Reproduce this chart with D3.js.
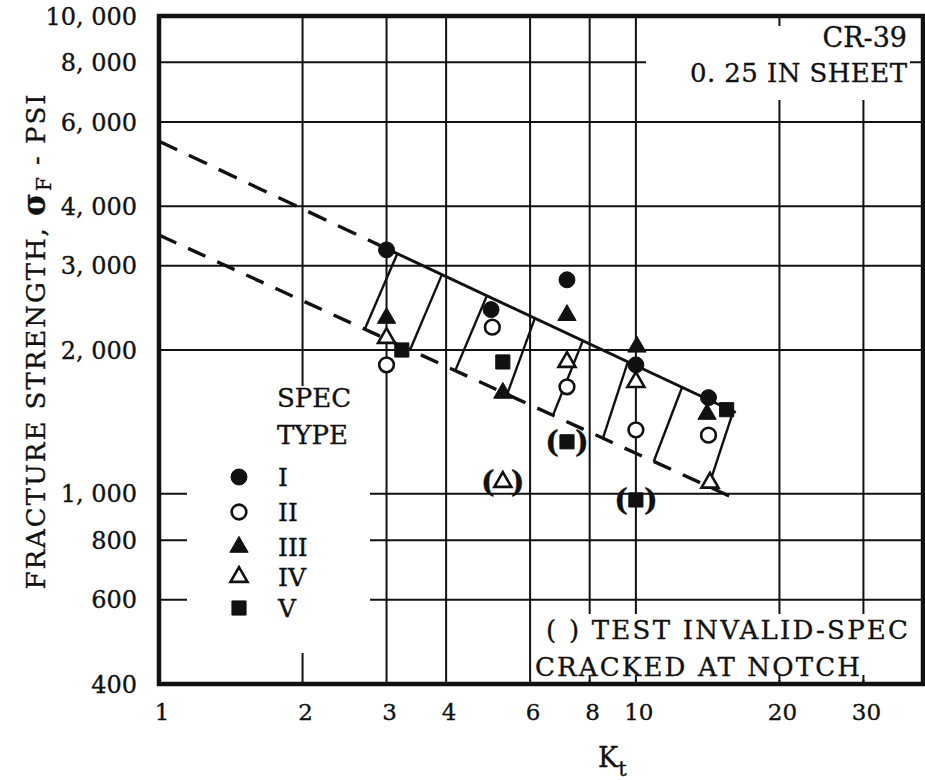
<!DOCTYPE html>
<html>
<head>
<meta charset="utf-8">
<script src="https://cdn.jsdelivr.net/npm/d3@7"></script>
<style>
  html, body { margin: 0; padding: 0; background: #fff; }
  svg { display: block; }
  text { font-family: "DejaVu Serif", "Liberation Serif", serif; fill: #111; stroke: #111; stroke-width: 0.35; }
</style>
</head>
<body>
<svg id="chart" width="925" height="780"></svg>
<script>
// ---------------- DATA ----------------
const xTicks = [1, 2, 3, 4, 6, 8, 10, 20, 30];
const xGrid = [2, 3, 4, 6, 8, 10, 20, 30];
const yTicks = [400, 600, 800, 1000, 2000, 3000, 4000, 6000, 8000, 10000];
const yTickLabels = ["400", "600", "800", "1, 000", "2, 000", "3, 000", "4, 000", "6, 000", "8, 000", "10, 000"];
const yGrid = [600, 800, 1000, 2000, 3000, 4000, 6000, 8000];

const specTypes = ["I", "II", "III", "IV", "V"];

// Type I  (filled circle)
const ktI   = [3.0, 4.97, 7.17, 10.0, 14.2];
const sigI  = [3240, 2430, 2805, 1862, 1590];
// Type II (open circle)
const ktII  = [3.0, 5.0, 7.17, 10.0, 14.2];
const sigII = [1862, 2233, 1675, 1361, 1327];
// Type III (filled triangle)
const ktIII  = [3.0, 5.26, 7.17, 10.05, 14.1];
const sigIII = [2333, 1626, 2365, 2031, 1469];
// Type IV (open triangle)
const ktIV  = [3.0, 5.26, 7.17, 10.0, 14.3];
const sigIV = [2119, 1059, 1888, 1714, 1055];
const invIV = [false, true, false, false, false];
// Type V (filled square)
const ktV  = [3.23, 5.26, 7.17, 10.0, 15.5];
const sigV = [2000, 1888, 1285, 971, 1500];
const invV = [false, false, true, true, false];

// Scatter band boundaries  [Kt, sigma]
const upperLine = [[1, 5470], [3, 3260], [16.2, 1480]];
const lowerLine = [[1, 3480], [16.4, 970]];
// Hatch strokes of the band: Kt on upper boundary -> Kt on lower boundary
const hatchTopKt = [3.16, 3.92, 4.87, 6.14, 7.74, 9.62, 12.5, 16.0];
const hatchBotKt = [2.70, 3.36, 4.18, 5.37, 6.70, 8.53, 10.9, 14.2];

// ---------------- CHART ----------------
const svg = d3.select("#chart");
const L = 159, R = 923, T = 16, B = 684;
const x = d3.scaleLog().domain([1, 40]).range([L, R]);
const y = d3.scaleLog().domain([400, 10000]).range([B, T]);

// grid
const g = svg.append("g");
g.selectAll("line.vg").data(xGrid).enter().append("line")
  .attr("x1", d => x(d)).attr("x2", d => x(d)).attr("y1", T).attr("y2", B)
  .attr("stroke", "#111").attr("stroke-width", 2);
g.selectAll("line.hg").data(yGrid).enter().append("line")
  .attr("y1", d => y(d)).attr("y2", d => y(d)).attr("x1", L).attr("x2", R)
  .attr("stroke", "#111").attr("stroke-width", 2);

// white boxes behind legend and notes (grid interrupted there)
svg.append("rect").attr("x", 187).attr("y", 386).attr("width", 183).attr("height", 267).attr("fill", "#fff");
svg.append("rect").attr("x", 646).attr("y", T + 2).attr("width", 264).attr("height", 82).attr("fill", "#fff");
svg.append("rect").attr("x", 533).attr("y", 614).attr("width", 378).attr("height", 66).attr("fill", "#fff");

// small inward ticks where grid is hidden
[8, 10, 20, 30].forEach(k => {
  svg.append("line").attr("x1", x(k)).attr("x2", x(k)).attr("y1", B).attr("y2", B - 9)
    .attr("stroke", "#111").attr("stroke-width", 2);
});
svg.append("line").attr("x1", x(20)).attr("x2", x(20)).attr("y1", T).attr("y2", T + 10)
  .attr("stroke", "#111").attr("stroke-width", 2);

// helpers for log-log interpolation on a polyline
function sigmaAt(line, k) {
  for (let i = 0; i < line.length - 1; i++) {
    const [k0, s0] = line[i], [k1, s1] = line[i + 1];
    if (k <= k1 || i === line.length - 2) {
      const t = (Math.log(k) - Math.log(k0)) / (Math.log(k1) - Math.log(k0));
      return Math.exp(Math.log(s0) + t * (Math.log(s1) - Math.log(s0)));
    }
  }
}
const lineGen = d3.line().x(d => x(d[0])).y(d => y(d[1]));

// upper boundary: dashed extrapolation then solid
svg.append("path").attr("d", lineGen(upperLine.slice(0, 2)))
  .attr("fill", "none").attr("stroke", "#111").attr("stroke-width", 3.4)
  .attr("stroke-dasharray", "20,13");
svg.append("path").attr("d", lineGen(upperLine.slice(1)))
  .attr("fill", "none").attr("stroke", "#111").attr("stroke-width", 3);
// lower boundary dashed
svg.append("path").attr("d", lineGen(lowerLine))
  .attr("fill", "none").attr("stroke", "#111").attr("stroke-width", 3.4)
  .attr("stroke-dasharray", "19,13");

// hatches
hatchTopKt.forEach((kt, i) => {
  const kb = hatchBotKt[i];
  svg.append("line")
    .attr("x1", x(kt)).attr("y1", y(sigmaAt(upperLine, kt)))
    .attr("x2", x(kb)).attr("y2", y(sigmaAt(lowerLine, kb)))
    .attr("stroke", "#111").attr("stroke-width", 2.4);
});

// markers
const sym = {
  "I":   { type: d3.symbolCircle,   size: 200, fill: "#111" },
  "II":  { type: d3.symbolCircle,   size: 170, fill: "#fff" },
  "III": { type: d3.symbolTriangle, size: 145, fill: "#111" },
  "IV":  { type: d3.symbolTriangle, size: 125, fill: "#fff" },
  "V":   { type: d3.symbolSquare,   size: 200, fill: "#111" }
};
function pts(ks, ss, inv) { return ks.map((k, i) => ({ k, s: ss[i], inv: inv ? inv[i] : false })); }
const series = [
  ["II", pts(ktII, sigII)],
  ["IV", pts(ktIV, sigIV, invIV)],
  ["I", pts(ktI, sigI)],
  ["III", pts(ktIII, sigIII)],
  ["V", pts(ktV, sigV, invV)]
];
function drawSym(sel, t) {
  const s = sym[t];
  sel.attr("d", d3.symbol().type(s.type).size(s.size)())
    .attr("fill", s.fill).attr("stroke", "#111").attr("stroke-width", s.fill === "#fff" ? 2.6 : 1);
}
series.forEach(([t, data]) => {
  const gg = svg.append("g");
  gg.selectAll("path").data(data).enter().append("path")
    .attr("transform", d => `translate(${x(d.k)},${y(d.s)})`)
    .call(drawSym, t);
  const inv = data.filter(d => d.inv);
  gg.selectAll("text.lp").data(inv).enter().append("text")
    .attr("x", d => x(d.k) - 8).attr("y", d => y(d.s) + 10)
    .attr("text-anchor", "end").attr("font-size", 29).attr("font-weight", "bold").text("(");
  gg.selectAll("text.rp").data(inv).enter().append("text")
    .attr("x", d => x(d.k) + 8).attr("y", d => y(d.s) + 10)
    .attr("text-anchor", "start").attr("font-size", 29).attr("font-weight", "bold").text(")");
});

// frame
svg.append("rect").attr("x", L).attr("y", T).attr("width", R - L).attr("height", B - T)
  .attr("fill", "none").attr("stroke", "#111").attr("stroke-width", 4.5);

// tick labels
svg.selectAll("text.xt").data(xTicks).enter().append("text")
  .attr("x", d => x(d) + 3).attr("y", 720).attr("text-anchor", "middle")
  .attr("font-size", 23).text(d => d);
svg.selectAll("text.yt").data(yTicks).enter().append("text")
  .attr("x", 137).attr("y", d => y(d) + 8.5).attr("text-anchor", "end")
  .attr("font-size", 24).text((d, i) => yTickLabels[i]);

// axis titles
const xt = svg.append("text").attr("x", 598).attr("y", 767).attr("font-size", 27);
xt.append("tspan").text("K");
xt.append("tspan").attr("dy", 9).attr("font-size", 21).text("t");

const yt = svg.append("text").attr("transform", "translate(45,342) rotate(-90)")
  .attr("text-anchor", "middle").attr("font-size", 26)
  .attr("textLength", 495).attr("lengthAdjust", "spacing");
yt.append("tspan").text("FRACTURE STRENGTH, ");
yt.append("tspan").attr("font-weight", "bold").attr("font-size", 31).text("σ");
yt.append("tspan").attr("dy", 6).attr("font-size", 20).text("F");
yt.append("tspan").attr("dy", -6).text(" - PSI");

// notes
svg.append("text").attr("x", 907).attr("y", 47).attr("text-anchor", "end").attr("font-size", 27).text("CR-39");
svg.append("text").attr("x", 907).attr("y", 82).attr("text-anchor", "end").attr("font-size", 26)
  .attr("textLength", 217).attr("lengthAdjust", "spacing").text("0. 25 IN SHEET");
svg.append("text").attr("x", 546).attr("y", 639).attr("font-size", 26)
  .attr("textLength", 362).attr("lengthAdjust", "spacing").text("( ) TEST INVALID-SPEC");
svg.append("text").attr("x", 535).attr("y", 676).attr("font-size", 26)
  .attr("textLength", 325).attr("lengthAdjust", "spacing").text("CRACKED AT NOTCH");

// legend
svg.append("text").attr("x", 277).attr("y", 407).attr("font-size", 26).text("SPEC");
svg.append("text").attr("x", 277).attr("y", 444).attr("font-size", 26).text("TYPE");
const legY = [477, 512, 547, 577, 608];
specTypes.forEach((t, i) => {
  svg.append("path").attr("transform", `translate(239,${legY[i]})`).call(drawSym, t);
  svg.append("text").attr("x", 278).attr("y", legY[i] + 9).attr("font-size", 25).text(t);
});
</script>
</body>
</html>
